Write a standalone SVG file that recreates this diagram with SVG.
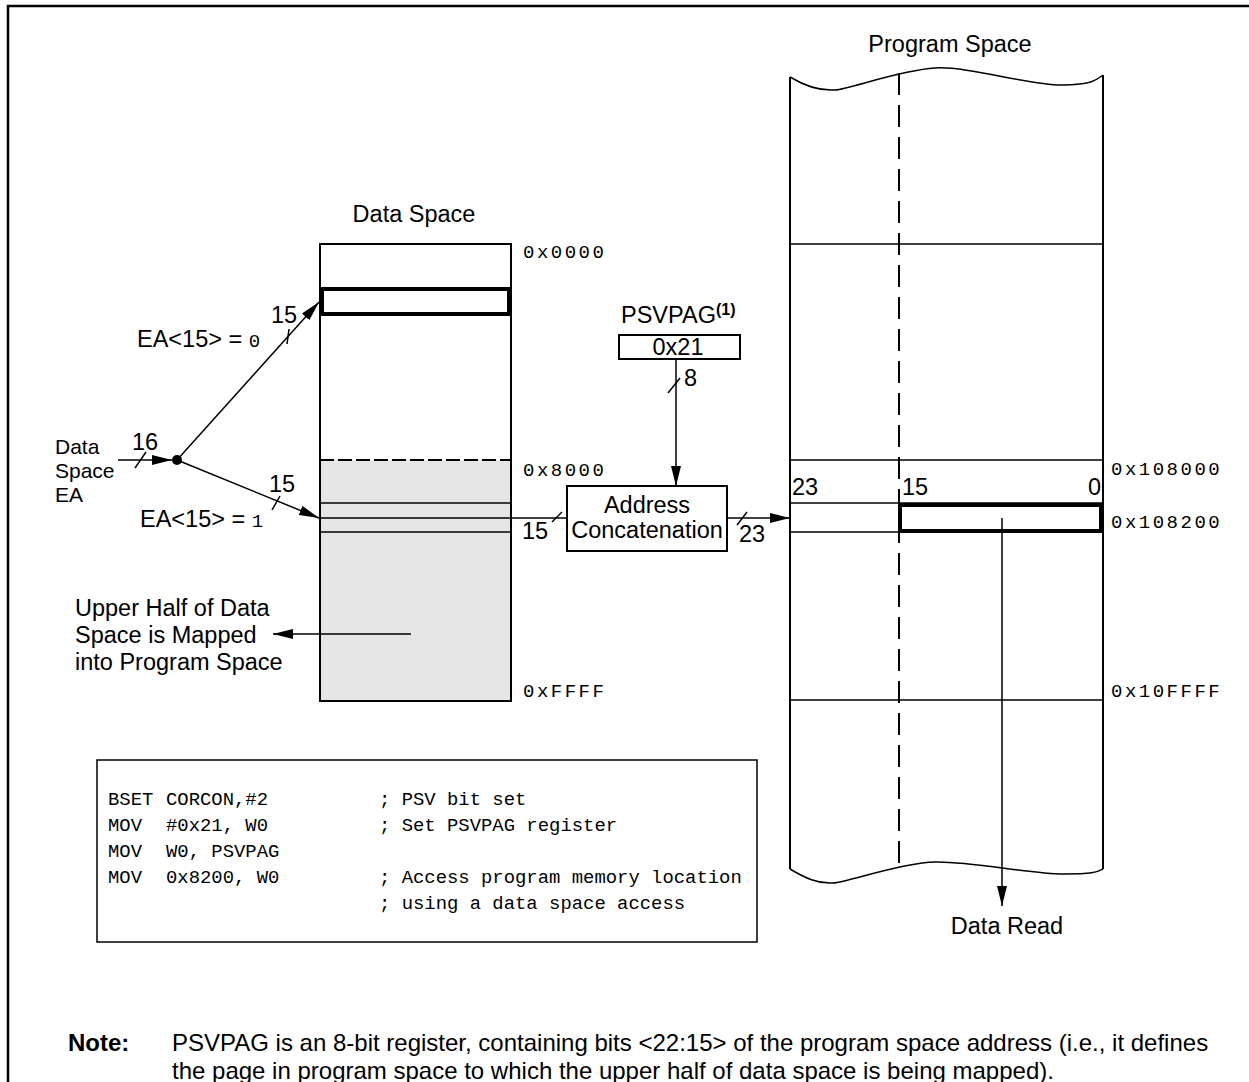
<svg xmlns="http://www.w3.org/2000/svg" width="1249" height="1082" viewBox="0 0 1249 1082">
<style>
.t{font-family:"Liberation Sans",Arial,sans-serif;font-size:23.5px;fill:#000}
.s{font-size:21px}
.n{font-size:24px}
.b{font-weight:bold}
.hx{font-family:"Liberation Mono","Courier New",monospace;font-size:19px;letter-spacing:2.5px;fill:#000}
.code{font-family:"Liberation Mono","Courier New",monospace;font-size:18.9px;fill:#000}
.ln{stroke:#000;stroke-width:1.5;fill:none}
.bx{stroke:#000;stroke-width:2;fill:#fff}
.thick{stroke:#000;stroke-width:4;fill:none}
.arr{stroke:#000;stroke-width:1.5;fill:none;marker-end:url(#ah)}
</style>
<defs>
<marker id="ah" viewBox="0 0 20 10" refX="20" refY="5" markerWidth="20" markerHeight="10" markerUnits="userSpaceOnUse" orient="auto"><path d="M0,0 L20,5 L0,10 Z" fill="#000"/></marker>
</defs>
<rect x="0" y="0" width="1249" height="1082" fill="#fff"/>
<path d="M8,1082 V6 H1249" stroke="#000" stroke-width="2.5" fill="none"/>

<g id="data-space">
<text class="t" x="414" y="222" text-anchor="middle">Data Space</text>
<rect class="bx" x="320" y="244" width="191" height="457"/>
<rect x="321" y="460" width="189" height="240" fill="#e6e6e6"/>
<line x1="320" y1="460" x2="511" y2="460" stroke="#000" stroke-width="2" stroke-dasharray="14 4"/>
<line class="ln" x1="320" y1="503" x2="511" y2="503"/>
<line class="ln" x1="320" y1="532" x2="511" y2="532"/>
<rect class="thick" x="322" y="289" width="187" height="25"/>
<line x1="320" y1="244" x2="320" y2="701" stroke="#000" stroke-width="2"/>
<line x1="511" y1="244" x2="511" y2="701" stroke="#000" stroke-width="2"/>
<line x1="320" y1="701" x2="511" y2="701" stroke="#000" stroke-width="2"/>
<text class="hx" x="523" y="258">0x0000</text>
<text class="hx" x="523" y="476">0x8000</text>
<text class="hx" x="523" y="697">0xFFFF</text>
</g>

<g id="ea-input">
<text class="t s" x="55" y="454">Data</text>
<text class="t s" x="55" y="478">Space</text>
<text class="t s" x="55" y="502">EA</text>
<text class="t" x="132" y="450">16</text>
<circle cx="177" cy="460" r="5" fill="#000"/>
<text class="t" x="137" y="347">EA&lt;15&gt; = <tspan class="hx" style="letter-spacing:0">0</tspan></text>
<text class="t" x="271" y="323">15</text>
<text class="t" x="140" y="527">EA&lt;15&gt; = <tspan class="hx" style="letter-spacing:0">1</tspan></text>
<text class="t" x="269" y="492">15</text>
</g>

<g id="psvpag">
<text class="t" x="621" y="323">PSVPAG<tspan class="b" font-size="16" dy="-8">(1)</tspan></text>
<rect class="bx" x="619" y="335" width="121" height="24" stroke-width="1.5"/>
<text class="t" x="678" y="355" text-anchor="middle">0x21</text>
<text class="t" x="684" y="386">8</text>
</g>

<g id="address-concatenation">
<rect class="bx" x="567" y="486" width="160" height="65" stroke-width="1.5"/>
<text class="t" x="647" y="513" text-anchor="middle">Address</text>
<text class="t" x="647" y="538" text-anchor="middle">Concatenation</text>
<text class="t" x="522" y="539">15</text>
<text class="t" x="739" y="542">23</text>
</g>

<g id="program-space">
<text class="t" x="950" y="52" text-anchor="middle">Program Space</text>
<path class="ln" d="M790,77 C805,86 820,91 835,90 S900,70 935,68 S1030,86 1063,85 S1097,79 1103,75"/>
<path class="ln" d="M790,869 C805,878 818,884 833,883 S900,863 935,862 S1030,874 1063,874 S1097,872 1103,869"/>
<line x1="790" y1="77" x2="790" y2="869" stroke="#000" stroke-width="2"/>
<line x1="1103" y1="75" x2="1103" y2="869" stroke="#000" stroke-width="2"/>
<line x1="899" y1="73" x2="899" y2="867" stroke="#000" stroke-width="2" stroke-dasharray="22 10"/>
<line class="ln" x1="790" y1="244" x2="1103" y2="244"/>
<line class="ln" x1="790" y1="460" x2="1103" y2="460"/>
<line class="ln" x1="790" y1="503" x2="1103" y2="503"/>
<line class="ln" x1="790" y1="532" x2="1103" y2="532"/>
<line class="ln" x1="790" y1="700" x2="1103" y2="700"/>
<rect class="thick" x="900" y="505" width="201" height="26"/>
<text class="t" x="792" y="495">23</text>
<text class="t" x="902" y="495">15</text>
<text class="t" x="1101" y="495" text-anchor="end">0</text>
<text class="hx" x="1111" y="475">0x108000</text>
<text class="hx" x="1111" y="528">0x108200</text>
<text class="hx" x="1111" y="697">0x10FFFF</text>
<text class="t" x="1007" y="934" text-anchor="middle">Data Read</text>
</g>

<g id="upper-half-note">
<text class="t" x="75" y="616">Upper Half of Data</text>
<text class="t" x="75" y="643">Space is Mapped</text>
<text class="t" x="75" y="670">into Program Space</text>
</g>

<g id="code-box">
<rect x="97" y="760" width="660" height="182" fill="none" stroke="#000" stroke-width="1.5"/>
<text class="code" x="108" y="805">BSET</text><text class="code" x="166" y="805">CORCON,#2</text><text class="code" x="379" y="805">; PSV bit set</text>
<text class="code" x="108" y="831">MOV</text><text class="code" x="166" y="831">#0x21, W0</text><text class="code" x="379" y="831">; Set PSVPAG register</text>
<text class="code" x="108" y="857">MOV</text><text class="code" x="166" y="857">W0, PSVPAG</text>
<text class="code" x="108" y="883">MOV</text><text class="code" x="166" y="883">0x8200, W0</text><text class="code" x="379" y="883">; Access program memory location</text>
<text class="code" x="379" y="909">; using a data space access</text>
</g>

<g id="note">
<text class="t n b" x="68" y="1051">Note:</text>
<text class="t n" x="172" y="1051">PSVPAG is an 8-bit register, containing bits &lt;22:15&gt; of the program space address (i.e., it defines</text>
<text class="t n" x="172" y="1079">the page in program space to which the upper half of data space is being mapped).</text>
</g>

<g id="connectors">
<line class="arr" x1="118" y1="460" x2="172" y2="460"/>
<line class="ln" x1="135" y1="468" x2="146" y2="452"/>
<line class="arr" x1="177" y1="460" x2="319" y2="302"/>
<line class="ln" x1="289" y1="329" x2="287" y2="344"/>
<line class="arr" x1="177" y1="460" x2="319" y2="518"/>
<line class="ln" x1="280" y1="496" x2="272" y2="510"/>
<line class="ln" x1="320" y1="518" x2="567" y2="518"/>
<line class="ln" x1="552" y1="522" x2="562" y2="512"/>
<line class="arr" x1="676" y1="359" x2="676" y2="486"/>
<line class="ln" x1="668" y1="393" x2="680" y2="378"/>
<line class="arr" x1="727" y1="518" x2="790" y2="518"/>
<line class="ln" x1="737" y1="525" x2="747" y2="512"/>
<line class="arr" x1="1002" y1="518" x2="1002" y2="906"/>
<line class="arr" x1="411" y1="634" x2="273" y2="634"/>
</g>
</svg>
